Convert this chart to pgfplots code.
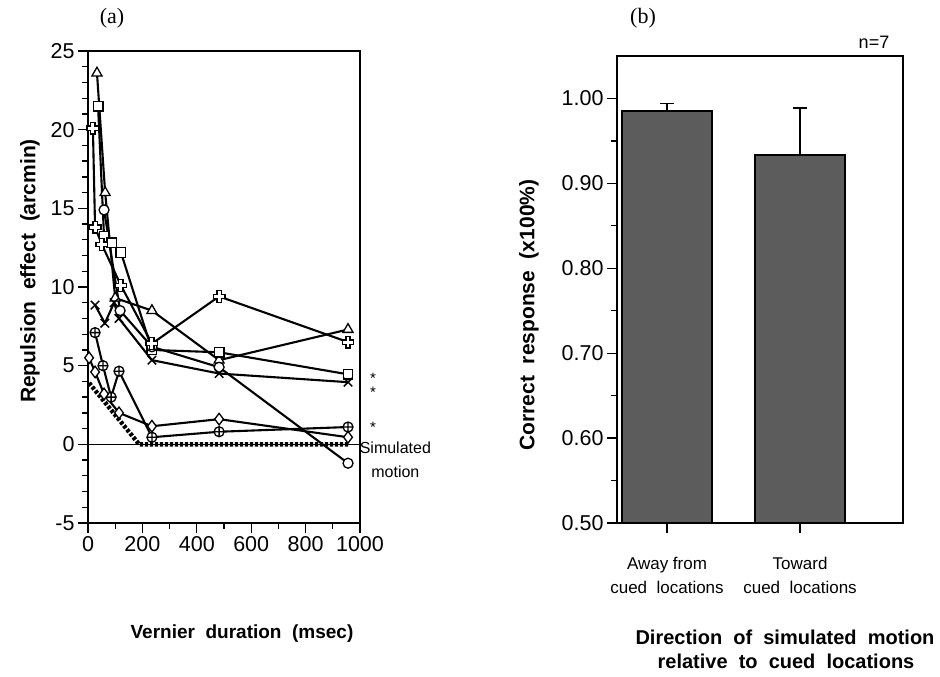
\documentclass[border=0pt]{standalone}
\usepackage{pgfplots}
\pgfplotsset{compat=1.18}
\usepackage{fontspec}
\setmainfont{Liberation Sans}
\newfontfamily\seriffont{Liberation Serif}
\usetikzlibrary{plotmarks}
\pgfdeclareplotmark{ocross}{%
  \pgfpathmoveto{\pgfqpoint{-0.36\pgfplotmarksize}{\pgfplotmarksize}}%
  \pgfpathlineto{\pgfqpoint{0.36\pgfplotmarksize}{\pgfplotmarksize}}%
  \pgfpathlineto{\pgfqpoint{0.36\pgfplotmarksize}{0.36\pgfplotmarksize}}%
  \pgfpathlineto{\pgfqpoint{\pgfplotmarksize}{0.36\pgfplotmarksize}}%
  \pgfpathlineto{\pgfqpoint{\pgfplotmarksize}{-0.36\pgfplotmarksize}}%
  \pgfpathlineto{\pgfqpoint{0.36\pgfplotmarksize}{-0.36\pgfplotmarksize}}%
  \pgfpathlineto{\pgfqpoint{0.36\pgfplotmarksize}{-\pgfplotmarksize}}%
  \pgfpathlineto{\pgfqpoint{-0.36\pgfplotmarksize}{-\pgfplotmarksize}}%
  \pgfpathlineto{\pgfqpoint{-0.36\pgfplotmarksize}{-0.36\pgfplotmarksize}}%
  \pgfpathlineto{\pgfqpoint{-\pgfplotmarksize}{-0.36\pgfplotmarksize}}%
  \pgfpathlineto{\pgfqpoint{-\pgfplotmarksize}{0.36\pgfplotmarksize}}%
  \pgfpathlineto{\pgfqpoint{-0.36\pgfplotmarksize}{0.36\pgfplotmarksize}}%
  \pgfpathclose
  \pgfusepathqfillstroke
}
\pgfplotsset{
  ser/.style={black, line width=2.1pt, mark size=5pt,
    mark options={solid, fill=white, line width=1.3pt}},
}
\begin{document}
\begin{tikzpicture}[x=1pt,y=1pt]
\useasboundingbox (0,0) rectangle (940,677);
% ---------------- panel (a)
\begin{axis}[at={(88pt,154pt)}, anchor=south west, scale only axis,
  width=272pt, height=472pt,
  xmin=0, xmax=1000, ymin=-5, ymax=25,
  xtick={0,200,400,600,800,1000},
  xticklabels={0,200,400,600,800,1000},
  minor xtick={100,300,500,700,900},
  ytick={-5,0,5,10,15,20,25},
  yticklabels={-5,0,5,10,15,20,25},
  minor y tick num=4,
  tick align=outside, xtick pos=bottom, ytick pos=left,
  major tick length=10pt, minor tick length=6pt,
  tick style={black, line width=1.3pt},
  axis line style={line width=1.8pt},
  tick label style={font=\fontsize{21.5}{21.5}\selectfont},
  clip=false]
\addplot[black, line width=1.1pt] coordinates {(0,0) (1000,0)};
\addplot[black, line width=4.4pt, dash pattern=on 3.2pt off 1.8pt] coordinates {(4,3.9) (188,0) (956,0)};
% triangle
\addplot[ser, mark=triangle*, mark size=5.8pt] coordinates {(33,23.6) (63,16.0) (100,9.3) (235,8.5) (482,5.35) (956,7.3)};
% square
\addplot[ser, mark=square*, mark size=4.8pt] coordinates {(37,21.5) (59,13.2) (88,12.8) (121,12.2) (235,6.0) (482,5.85) (956,4.45)};
% circle
\addplot[ser, mark=*] coordinates {(59,14.9) (118,8.5) (235,6.2) (482,4.9) (956,-1.2)};
% x
\addplot[black, line width=2.1pt, mark=x, mark size=6pt, mark options={solid, line width=1.5pt}] coordinates {(26,8.85) (62,7.7) (96,9.0) (114,8.0) (235,5.35) (482,4.5) (956,3.95)};
% oplus
\addplot[ser, mark=oplus*] coordinates {(26,7.1) (55,5.0) (85,3.0) (114,4.65) (235,0.45) (482,0.8) (956,1.1)};
% diamond
\addplot[ser, mark=diamond*, mark size=5.8pt] coordinates {(4,5.5) (26,4.6) (59,3.2) (114,2.0) (235,1.15) (482,1.6) (956,0.45)};
% open cross
\addplot[ser, mark=ocross, mark size=5.8pt] coordinates {(18,20.1) (26,13.8) (51,12.7) (121,10.1) (235,6.4) (482,9.4) (956,6.5)};
\node[font=\fontsize{15}{15}\selectfont, inner sep=0pt] at (axis cs:1048,4.2) {*};
\node[font=\fontsize{15}{15}\selectfont, inner sep=0pt] at (axis cs:1048,3.3) {*};
\node[font=\fontsize{15}{15}\selectfont, inner sep=0pt] at (axis cs:1048,1.1) {*};
\node[font=\fontsize{16}{24}\selectfont, align=center] at (axis cs:1130,-1.0) {Simulated\\motion};
\end{axis}
% ---------------- panel (b)
\begin{axis}[at={(617pt,154pt)}, anchor=south west, scale only axis,
  width=286pt, height=467pt,
  xmin=-0.376, xmax=1.774, ymin=0.5, ymax=1.05,
  ybar, bar width=0.677,
  xtick={0,1},
  xticklabels={{Away from\\cued~~locations},{Toward\\cued~~locations}},
  xticklabel style={align=center, font=\fontsize{17}{24}\selectfont, yshift=-21pt},
  ytick={0.5,0.6,0.7,0.8,0.9,1.0},
  yticklabels={0.50,0.60,0.70,0.80,0.90,1.00},
  minor y tick num=1,
  tick align=outside, xtick pos=bottom, ytick pos=left,
  major tick length=10pt, minor tick length=6pt,
  tick style={black, line width=1.3pt},
  axis line style={line width=1.8pt},
  yticklabel style={font=\fontsize{21.5}{21.5}\selectfont},
  clip=false]
\addplot[fill=black!64, draw=black, line width=2pt,
  error bars/.cd, y dir=plus, y explicit,
  error bar style={line width=1.6pt},
  error mark options={rotate=90, mark size=7pt, line width=1.6pt}]
  coordinates {(0,0.985) +- (0,0.009) (1,0.933) +- (0,0.056)};
\end{axis}
% ---------------- texts
\node[font=\seriffont\fontsize{22}{22}\selectfont] at (112,659) {(a)};
\node[font=\seriffont\fontsize{22}{22}\selectfont] at (643,659) {(b)};
\node[font=\fontsize{18}{18}\selectfont] at (874,635) {n=7};
\node[rotate=90, font=\bfseries\fontsize{21}{21}\selectfont] at (30,406) {Repulsion\ \ effect\ \ (arcmin)};
\node[font=\bfseries\fontsize{19}{19}\selectfont] at (242,43) {Vernier\ \ duration\ \ (msec)};
\node[rotate=90, font=\bfseries\fontsize{21}{21}\selectfont] at (529,362) {Correct\ \ response\ \ (x100\%)};
\node[font=\bfseries\fontsize{20}{20}\selectfont] at (785,40) {Direction\ \ of\ \ simulated\ \ motion};
\node[font=\bfseries\fontsize{20}{20}\selectfont] at (786,16) {relative\ \ to\ \ cued\ \ locations};
\end{tikzpicture}
\end{document}
